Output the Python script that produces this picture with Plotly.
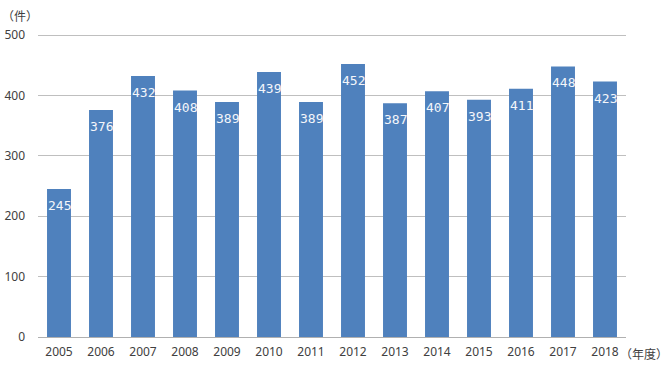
import plotly.graph_objects as go

years = ["2005", "2006", "2007", "2008", "2009", "2010", "2011", "2012", "2013", "2014", "2015", "2016", "2017", "2018"]
counts = [245, 376, 432, 408, 389, 439, 389, 452, 387, 407, 393, 411, 448, 423]
y_ticks = [0, 100, 200, 300, 400, 500]

fig = go.Figure()
fig.add_trace(go.Bar(
    x=years, y=counts,
    marker=dict(color="#4f81bd", line=dict(width=0)),
    hoverinfo="skip",
))

# value labels, positioned by category index on the category axis
for i, v in enumerate(counts):
    fig.add_annotation(x=i, y=v, text=str(v), showarrow=False,
                       xanchor="center", yanchor="top", yshift=-7,
                       font=dict(color="#f4f6fa", size=13, family="DejaVu Sans Mono"))

fig.update_layout(
    width=670, height=365,
    margin=dict(l=38, r=44, t=29, b=28, autoexpand=False),
    paper_bgcolor="white", plot_bgcolor="white",
    bargap=0.43,
    showlegend=False,
    font=dict(family="Noto Sans, Noto Sans CJK JP", size=12, color="#404040"),
    xaxis=dict(type="category", range=[-0.5, len(years) - 0.5], showgrid=False, showline=True,
               linecolor="#b0b0b0", linewidth=1,
               ticks="", ticklabelstandoff=4, tickfont=dict(size=12, color="#404040"), automargin=False),
    yaxis=dict(range=[0, 510], tickvals=y_ticks, showgrid=True, gridcolor="#bfbfbf", gridwidth=1,
               zeroline=False, showline=False, ticks="", ticklabelstandoff=12, automargin=False,
               tickfont=dict(size=12, color="#404040")),
)

fig.add_annotation(text="（件）", xref="paper", yref="paper", x=0, y=0,
                   xanchor="left", yanchor="middle", xshift=-38, yshift=322, showarrow=False,
                   font=dict(size=12, color="#404040", family="Noto Sans CJK JP"))
fig.add_annotation(text="（年度）", xref="paper", yref="paper", x=1.0, y=0,
                   xanchor="left", yanchor="middle", xshift=-8, yshift=-16, showarrow=False,
                   font=dict(size=12, color="#404040", family="Noto Sans CJK JP"))

fig.write_html("out.html", config={"displayModeBar": False, "staticPlot": True},
               post_script="document.body.style.margin='0';document.body.style.overflow='hidden';")
